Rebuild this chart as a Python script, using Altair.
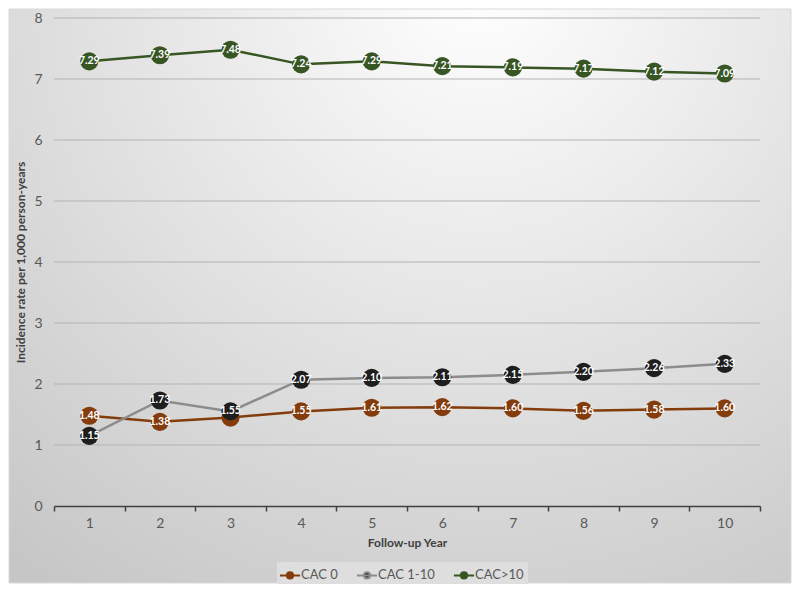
import altair as alt
import pandas as pd

years = [1, 2, 3, 4, 5, 6, 7, 8, 9, 10]
cac0 = [1.48, 1.38, 1.45, 1.55, 1.61, 1.62, 1.60, 1.56, 1.58, 1.60]
cac0_labels = ["1.48", "1.38", "", "1.55", "1.61", "1.62", "1.60", "1.56", "1.58", "1.60"]
cac1_10 = [1.15, 1.73, 1.55, 2.07, 2.10, 2.11, 2.15, 2.20, 2.26, 2.33]
cac10 = [7.29, 7.39, 7.48, 7.24, 7.29, 7.21, 7.19, 7.17, 7.12, 7.09]
series = ["CAC 0", "CAC 1-10", "CAC>10"]
marker_colors = ["#843c0c", "#1e1e1e", "#375623"]
line_colors = ["#843c0c", "#8c8c8c", "#375623"]
y_ticks = [1, 2, 3, 4, 5, 6, 7, 8]

rows = []
for name, vals in zip(series, [cac0, cac1_10, cac10]):
    for i, (y, v) in enumerate(zip(years, vals)):
        lab = f"{v:.2f}"
        if name == "CAC 0":
            lab = cac0_labels[i]
        rows.append({"year": str(y), "rate": v, "series": name, "label": lab})
df = pd.DataFrame(rows)

W, H = 706, 488
PL, PT, PR, PB = 46, 10, 32, 78
FONT = "Lato"

bg = alt.Chart(pd.DataFrame({"a": [0]})).mark_rect(
    fill={
        "gradient": "radial",
        "x1": 0.6, "y1": 0.1, "r1": 0,
        "x2": 0.6, "y2": 0.1, "r2": 0.95,
        "stops": [
            {"offset": 0, "color": "#ffffff"},
            {"offset": 1, "color": "#c6c6c6"},
        ],
    },
    stroke="#d9d9d9",
    strokeWidth=1,
).encode(
    x=alt.value(-PL + 1), x2=alt.value(W + PR - 1),
    y=alt.value(-PT + 1), y2=alt.value(H + PB - 1),
)

x_enc = alt.X(
    "year:N",
    sort=[str(y) for y in years],
    scale=alt.Scale(type="band", paddingInner=0, paddingOuter=0),
    axis=alt.Axis(
        title="Follow-up Year",
        labelAngle=0,
        tickBand="extent",
        tickSize=5,
        tickColor="#404040",
        tickWidth=1.5,
        domainColor="#404040",
        domainWidth=1.5,
        labelFont=FONT,
        labelFontSize=14,
        labelColor="#595959",
        labelPadding=5,
        titleFont=FONT,
        titleFontSize=12,
        titleFontWeight="bold",
        titleColor="#404040",
        titlePadding=7,
        grid=False,
        zindex=2,
    ),
)
y_scale = alt.Scale(domain=[0, 8], nice=False)
y_enc = alt.Y(
    "rate:Q",
    scale=y_scale,
    axis=alt.Axis(
        title="Incidence rate per 1,000 person-years",
        values=[0, 1, 2, 3, 4, 5, 6, 7, 8],
        format="d",
        domain=False,
        ticks=False,
        grid=False,
        labelFont=FONT,
        labelFontSize=14,
        labelColor="#595959",
        labelPadding=12,
        titleFont=FONT,
        titleFontSize=12,
        titleFontWeight="bold",
        titleColor="#404040",
        titlePadding=6,
        zindex=2,
    ),
)

legend_spec = alt.Legend(
    title=None,
    orient="none",
    direction="horizontal",
    legendX=223,
    legendY=H + 56,
    fillColor="#dedede",
    padding=4,
    symbolType="M -1.3 0 L 1.3 0 M -0.4 0 A 0.4 0.4 0 1 0 0.4 0 A 0.4 0.4 0 1 0 -0.4 0 Z",
    symbolSize=240,
    symbolStrokeWidth=2,
    labelFont=FONT,
    labelFontSize=13,
    labelColor="#595959",
    labelOffset=2,
    columnPadding=14,
    symbolOffset=0,
    zindex=2,
)

fill_scale = alt.Scale(domain=series, range=marker_colors)
stroke_scale = alt.Scale(domain=series, range=line_colors)

grid = alt.Chart(pd.DataFrame({"v": y_ticks})).mark_rule(color="#b3b3b3", strokeWidth=1).encode(
    y=alt.Y("v:Q", scale=y_scale),
)

lines = alt.Chart(df).mark_line(strokeWidth=2.5).encode(
    x=x_enc,
    y=y_enc,
    stroke=alt.Stroke("series:N", scale=stroke_scale, legend=legend_spec),
    detail="series:N",
)

points = alt.Chart(df).mark_point(filled=True, size=330, opacity=1, shape="circle", strokeWidth=0).encode(
    x=x_enc,
    y=y_enc,
    fill=alt.Fill("series:N", scale=fill_scale, legend=legend_spec),
)

labels = alt.Chart(df).mark_text(
    font=FONT, fontSize=10.5, fontWeight="bold", color="white", align="center", baseline="middle"
).encode(
    x=x_enc,
    y=y_enc,
    text="label:N",
)

chart = alt.layer(bg, grid, lines, points, labels).properties(
    width=W,
    height=H,
    autosize=alt.AutoSizeParams(type="none"),
    padding={"left": PL, "top": PT, "right": PR, "bottom": PB},
).configure_view(stroke=None).configure(background="white")

chart.save("out.html", embed_options={"renderer": "svg", "actions": False})
